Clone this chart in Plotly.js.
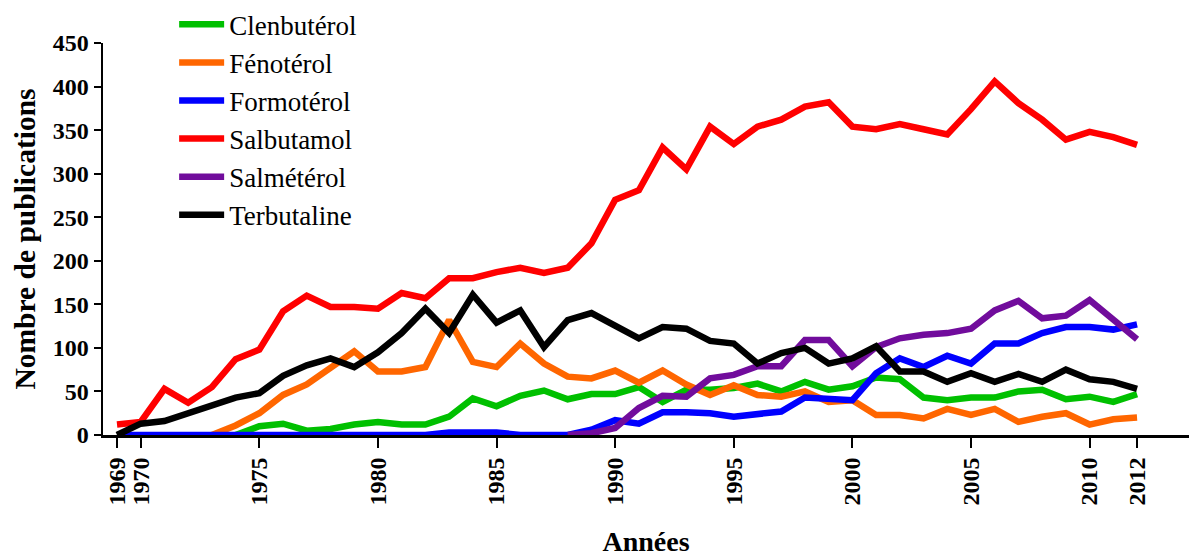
<!DOCTYPE html>
<html>
<head>
<meta charset="utf-8">
<script src="https://cdn.plot.ly/plotly-3.0.1.min.js"></script>
<style>html,body{margin:0;padding:0;background:#fff;}#chart{width:1189px;height:557px;}</style>
</head>
<body>
<div id="chart"></div>
<script>
const years = [1969,1970,1971,1972,1973,1974,1975,1976,1977,1978,1979,1980,1981,1982,1983,1984,1985,1986,1987,1988,1989,1990,1991,1992,1993,1994,1995,1996,1997,1998,1999,2000,2001,2002,2003,2004,2005,2006,2007,2008,2009,2010,2011,2012];

const clenbuterol = [null,null,null,null,null,0,10,13,5,7,12,15,12,12,21,42,33,45,51,41,47,47,55,38,52,52,54,59,50,61,52,56,66,64,43,40,43,43,50,52,41,44,38,47];
const fenoterol   = [null,null,null,null,0,11,25,46,58,78,96,73,73,78,132,84,78,105,82,67,65,74,60,74,58,46,57,46,44,50,38,40,23,23,19,30,23,30,15,21,25,12,18,20];
const formoterol  = [0,0,0,0,0,0,0,0,0,0,0,0,0,0,3,3,3,0,0,0,6,17,13,26,26,25,21,24,27,43,42,40,71,88,78,91,82,105,105,117,124,124,121,127];
const salbutamol  = [12,15,53,37,55,87,98,142,160,147,147,145,163,157,180,180,187,192,186,192,220,270,281,330,305,354,334,354,362,377,382,354,351,357,351,345,374,406,381,362,339,348,342,333];
const salmeterol  = [null,null,null,null,null,null,null,null,null,null,null,null,null,null,null,null,null,null,null,0,2,8,31,45,44,65,69,79,79,109,109,79,101,111,115,117,122,143,154,134,137,155,133,110];
const terbutaline = [0,13,16,25,34,43,48,68,80,88,78,95,117,145,117,161,129,143,101,132,140,125,111,124,122,108,105,82,94,100,82,88,102,73,73,61,71,61,70,61,75,64,61,53];

const seriesNames = ['Clenbutérol','Fénotérol','Formotérol','Salbutamol','Salmétérol','Terbutaline'];
const seriesValues = [clenbuterol, fenoterol, formoterol, salbutamol, salmeterol, terbutaline];
const seriesColors = ['#00c000','#ff6600','#0000ff','#ff0000','#710c9c','#000000'];

const xTickVals = [1969,1970,1975,1980,1985,1990,1995,2000,2005,2010,2012];
const xTickText = ['1969','1970','1975','1980','1985','1990','1995','2000','2005','2010','2012'];

const serif = '"Liberation Serif", serif';

const traces = seriesNames.map((name, i) => ({
  type: 'scatter',
  mode: 'lines',
  name: name,
  x: years,
  y: seriesValues[i],
  line: {color: seriesColors[i], width: 6.5},
  legendgroup: 'g' + i,
  hoverinfo: 'x+y+name'
}));

const layout = {
  width: 1189,
  height: 557,
  paper_bgcolor: '#fff',
  plot_bgcolor: '#fff',
  font: {family: serif, color: '#000'},
  margin: {l: 103, r: 0, t: 43, b: 122},
  showlegend: true,
  legend: {
    x: 0.0655, xanchor: 'left',
    y: 1.109, yanchor: 'top',
    font: {family: serif, size: 27, color: '#000'},
    bgcolor: 'rgba(0,0,0,0)',
    borderwidth: 0,
    tracegroupgap: 0,
    itemwidth: 45
  },
  xaxis: {
    range: [1968.41, 2014.19],
    showgrid: false,
    zeroline: false,
    showline: true,
    linecolor: '#000',
    linewidth: 3,
    ticks: 'outside',
    ticklen: 10,
    tickwidth: 2,
    tickcolor: '#000',
    tickmode: 'array',
    tickvals: xTickVals,
    ticktext: xTickText,
    tickangle: -90,
    tickfont: {family: serif, size: 24, color: '#000', weight: 'bold'},
    title: {text: '<b>Années</b>', font: {family: serif, size: 28, color: '#000'}, standoff: 30}
  },
  yaxis: {
    range: [0, 450],
    dtick: 50,
    showgrid: false,
    zeroline: false,
    showline: true,
    linecolor: '#000',
    linewidth: 2.5,
    ticks: 'outside',
    ticklen: 7,
    tickwidth: 2,
    tickcolor: '#000',
    tickfont: {family: serif, size: 24, color: '#000', weight: 'bold'},
    title: {text: '<b>Nombre de publications</b>', font: {family: serif, size: 29.5, color: '#000'}, standoff: 9}
  }
};

Plotly.newPlot('chart', traces, layout, {displayModeBar: false, staticPlot: true});
</script>
</body>
</html>
